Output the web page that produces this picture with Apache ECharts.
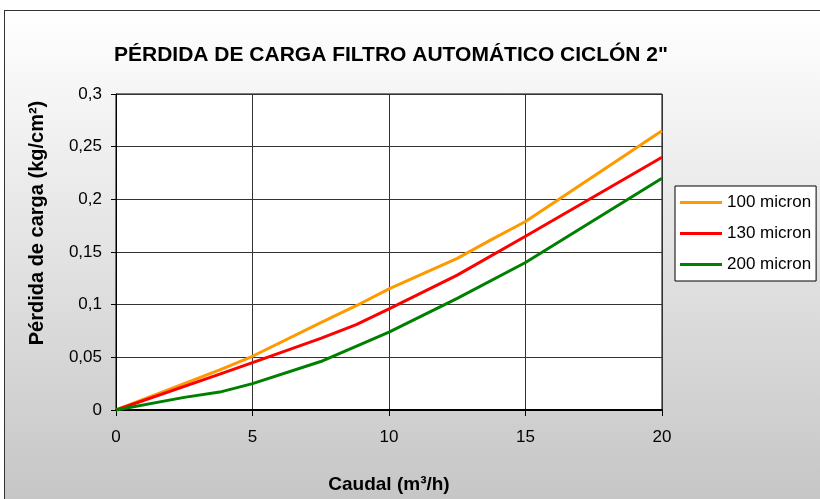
<!DOCTYPE html>
<html>
<head>
<meta charset="utf-8">
<script src="https://cdn.jsdelivr.net/npm/echarts@6/dist/echarts.min.js"></script>
<style>
  body { margin: 0; background: #fff; }
  #frame {
    position: absolute; left: 4px; top: 10px; width: 830px; height: 500px;
    border-left: 1px solid #333; border-top: 1px solid #333;
    background: linear-gradient(#ffffff, #c6c6c6 489px);
  }
  #chart { position: absolute; left: 0; top: 0; width: 820px; height: 499px; }
</style>
</head>
<body>
<div id="frame"></div>
<div id="chart"></div>
<script>
// Caudal (m3/h) y pérdida de carga (kg/cm2)
const caudal100 = [0, 3.8, 5, 7.5, 8.8, 10, 12.5, 13.7, 15, 20];
const perdida100 = [0, 0.038, 0.051, 0.083, 0.099, 0.115, 0.144, 0.161, 0.179, 0.265];

const caudal130 = [0, 3.8, 5, 7.5, 8.8, 10, 12.5, 15, 20];
const perdida130 = [0, 0.034, 0.045, 0.068, 0.081, 0.096, 0.128, 0.165, 0.240];

const caudal200 = [0, 2.5, 3.8, 5, 7.5, 10, 12.5, 15, 20];
const perdida200 = [0, 0.012, 0.017, 0.025, 0.046, 0.074, 0.106, 0.140, 0.220];

const nombres = ['100 micron', '130 micron', '200 micron'];
const colores = ['#ff9900', '#ff0000', '#008000'];

const font = 'Liberation Sans, Arial, sans-serif';

function pares(xs, ys) {
    return xs.map((x, i) => [x, ys[i]]);
}

const chart = echarts.init(document.getElementById('chart'));

const option = {
    backgroundColor: 'transparent',
    animation: false,
    title: {
        text: 'PÉRDIDA DE CARGA FILTRO AUTOMÁTICO CICLÓN 2"',
        left: 114,
        top: 45,
        padding: 0,
        textStyle: { fontFamily: font, fontSize: 21, fontWeight: 'bold', color: '#000' }
    },
    legend: {
        orient: 'vertical',
        left: 675,
        top: 186,
        padding: [8, 5, 8, 5],
        icon: 'rect',
        itemWidth: 42,
        itemHeight: 3,
        itemGap: 14,
        backgroundColor: '#fff',
        borderColor: '#000',
        borderWidth: 1,
        borderRadius: 0,
        textStyle: { fontFamily: font, fontSize: 17, lineHeight: 17, color: '#000' },
        data: nombres
    },
    grid: {
        left: 116, top: 94, width: 546, height: 319,
        show: true, backgroundColor: '#fff', borderColor: '#000', borderWidth: 1
    },
    xAxis: {
        type: 'value',
        min: 0, max: 20, interval: 5,
        name: 'Caudal (m³/h)',
        nameLocation: 'middle',
        nameGap: 65,
        nameTextStyle: { fontFamily: font, fontSize: 19, fontWeight: 'bold', color: '#000' },
        axisLine: { show: true, lineStyle: { color: '#000', width: 2 } },
        axisTick: { show: true, length: 6, lineStyle: { color: '#000' } },
        axisLabel: { margin: 19, fontFamily: font, fontSize: 17, color: '#000' },
        splitLine: { show: true, lineStyle: { color: '#333', width: 1 } }
    },
    yAxis: {
        type: 'value',
        min: 0, max: 0.3, interval: 0.05,
        name: 'Pérdida de carga (kg/cm²)',
        nameLocation: 'middle',
        nameGap: 69,
        nameTextStyle: { fontFamily: font, fontSize: 20, fontWeight: 'bold', color: '#000', padding: [0, 0, 0, 58] },
        axisLine: { show: true, lineStyle: { color: '#000', width: 1 } },
        axisTick: { show: true, length: 5, lineStyle: { color: '#000' } },
        axisLabel: {
            margin: 14, fontFamily: font, fontSize: 17, color: '#000',
            formatter: v => String(+v.toFixed(2)).replace('.', ',')
        },
        splitLine: { show: true, lineStyle: { color: '#333', width: 1 } }
    },
    series: [
        { name: nombres[0], data: pares(caudal100, perdida100) },
        { name: nombres[1], data: pares(caudal130, perdida130) },
        { name: nombres[2], data: pares(caudal200, perdida200) }
    ].map((s, i) => Object.assign(s, {
        type: 'line',
        symbol: 'none',
        color: colores[i],
        lineStyle: { width: 3, color: colores[i] }
    }))
};

chart.setOption(option);
</script>
</body>
</html>
